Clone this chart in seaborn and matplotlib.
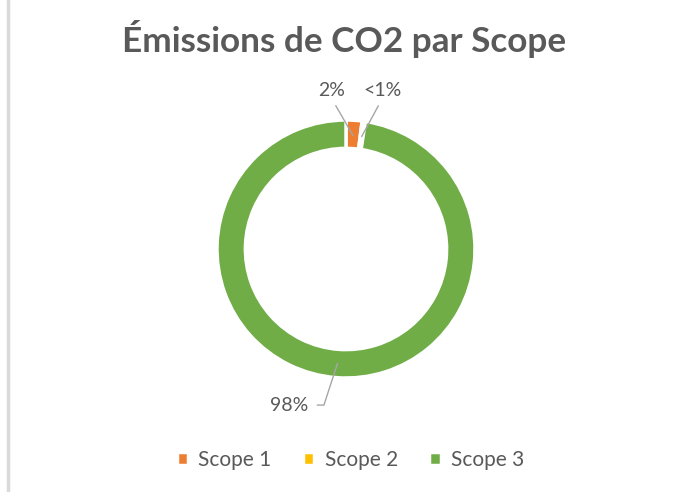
import numpy as np
import matplotlib
matplotlib.use('Agg')
import matplotlib.pyplot as plt
from matplotlib.lines import Line2D
import seaborn as sns

# data
scopes = ['Scope 1', 'Scope 2', 'Scope 3']
shares = [2.0, 0.4, 97.6]
pct_labels = ['2%', '<1%', '98%']
colors = ['#ED7D31', '#FFC000', '#70AD47']

title = 'Émissions de CO2 par Scope'
text_grey = '#595959'

sns.set_theme(style='white')
plt.rcParams['font.family'] = ['Lato', 'DejaVu Sans']

W, H = 674, 492
fig = plt.figure(figsize=(W / 100, H / 100), dpi=100)
fig.patch.set_facecolor('white')

# ring placement (pixels)
cx, cy, r = 346, 249, 129
ax = fig.add_axes([(cx - r) / W, (H - cy - r) / H, 2 * r / W, 2 * r / H])
wedges, _ = ax.pie(shares, colors=colors, startangle=90, counterclock=False,
                   radius=1, wedgeprops=dict(width=0.22, edgecolor='white', linewidth=2.5))
ax.set_xlim(-1, 1)
ax.set_ylim(-1, 1)
ax.set_aspect('equal')
ax.axis('off')

# label text positions in axes data units
text_pos = [(-0.11, 1.23), (0.28, 1.23), (-0.44, -1.21)]
for w, lab, pos in zip(wedges, pct_labels, text_pos):
    ang = np.deg2rad((w.theta1 + w.theta2) / 2)
    rr = 0.88
    xy = (rr * np.cos(ang), rr * np.sin(ang))
    if pos[1] > 0:
        ax.annotate(lab, xy=xy, xytext=pos, ha='center', va='center',
                    fontsize=14, color=text_grey, annotation_clip=False,
                    arrowprops=dict(arrowstyle='-', color='#a6a6a6', lw=1,
                                    relpos=(0.5, 0), shrinkA=3, shrinkB=0))
    else:
        ax.annotate(lab, xy=(xy[0], xy[1] - 0.01), xytext=pos, ha='center', va='center',
                    fontsize=14, color=text_grey, annotation_clip=False,
                    arrowprops=dict(arrowstyle='-', color='#a6a6a6', lw=1,
                                    relpos=(1, 0.5), shrinkA=4, shrinkB=0,
                                    connectionstyle='angle,angleA=0,angleB=72,rad=0'))

fig.text(344 / W, 1 - 39 / H, title, ha='center', va='center', fontsize=25.3,
         fontweight='bold', color=text_grey)

leg = fig.legend(wedges, scopes, loc='center', bbox_to_anchor=(0.52, 1 - 460 / H),
                 ncol=3, frameon=False, fontsize=15, handlelength=0.55, handleheight=0.55,
                 columnspacing=1.5, handletextpad=0.5)
for t in leg.get_texts():
    t.set_color(text_grey)

# thin chart border on the left edge
fig.add_artist(Line2D([8 / W, 8 / W], [0, 1], color='#d9d9d9', lw=2.5,
                      transform=fig.transFigure))

fig.savefig('out.png', dpi=100, facecolor='white')
